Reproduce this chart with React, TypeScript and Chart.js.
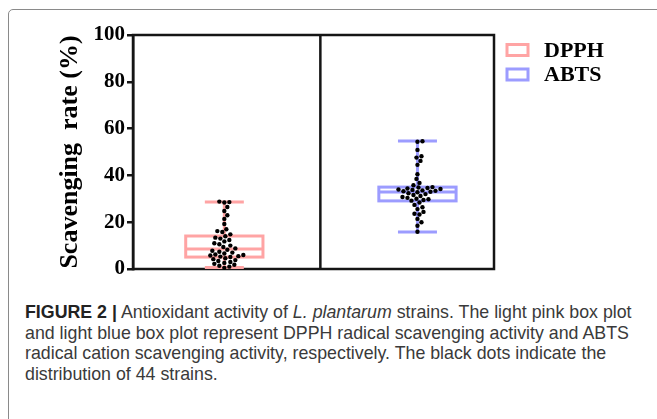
import React, { useEffect, useRef } from "react";
import { Chart, registerables } from "chart.js";

Chart.register(...registerables);

// ---------- data ----------
const groupLabels = ["DPPH", "ABTS"];
const groupColors = ["#ffa4a4", "#9c9cff"];

const dpphValues = [
  28.8, 28.6, 28.4, 26.5, 24.8, 23.0, 21.4, 19.2, 17.0, 16.2, 15.8,
  14.8, 14.0, 13.4, 13.0, 12.4, 11.8, 11.0, 10.6, 10.0, 9.4, 8.8,
  8.2, 7.8, 7.4, 7.0, 6.6, 6.2, 6.0, 5.8, 5.5, 5.3, 5.1,
  4.6, 4.2, 3.8, 3.4, 3.0, 2.6, 2.2, 1.8, 1.4, 1.0, 0.5,
];
const abtsValues = [
  54.6, 54.4, 50.9, 48.2, 47.6, 46.2, 44.5, 40.5, 38.5, 36.8, 35.8,
  35.0, 34.8, 34.6, 34.4, 34.2, 34.0, 33.8, 33.6, 33.4, 33.2, 33.0,
  32.8, 32.4, 32.0, 31.6, 31.2, 30.8, 30.4, 30.0, 29.8, 29.5, 29.2,
  28.4, 27.4, 26.4, 25.6, 24.4, 23.6, 23.3, 21.4, 20.0, 18.5, 15.9,
];
const boxMin = [0.6, 15.8];
const boxQ1 = [5.1, 29.1];
const boxMedian = [8.5, 32.9];
const boxQ3 = [14.1, 35.0];
const boxMax = [28.6, 54.7];
const yTicks = [0, 20, 40, 60, 80, 100];

// ---------- layout constants ----------
const groupX = [25.3, 78.8]; // x-scale positions of the two boxes (scale 0..100)
const dividerX = 51.9;
const boxHalf = 10.7; // half box width in x units
const capHalf = 5.4;
const AXIS_X = 133;
const SERIF = '"Liberation Serif", "Times New Roman", serif';

function swarm(values: number[], cx: number, yPix: (v: number) => number, d: number) {
  const placed: { x: number; y: number }[] = [];
  const sorted = [...values].sort((a, b) => a - b);
  for (const v of sorted) {
    const py = yPix(v);
    let best = cx;
    for (let k = 0; k < 300; k++) {
      const off = k === 0 ? 0 : k % 2 ? (k + 1) / 2 : -k / 2;
      const px = cx + off;
      if (placed.every((p) => (p.x - px) ** 2 + (p.y - py) ** 2 >= d * d)) {
        best = px;
        break;
      }
    }
    placed.push({ x: best, y: py });
  }
  return placed;
}

const boxPlugin = {
  id: "boxPlugin",
  afterDraw(chart: any) {
    const { ctx, chartArea, scales } = chart;
    const x = scales.x;
    const y = scales.y;
    const yPix = (v: number) => y.getPixelForValue(v);
    ctx.save();
    // frame
    ctx.strokeStyle = "#151515";
    ctx.lineWidth = 2.5;
    ctx.strokeRect(chartArea.left, chartArea.top, chartArea.right - chartArea.left, chartArea.bottom - chartArea.top);
    const dx = x.getPixelForValue(dividerX);
    ctx.beginPath();
    ctx.moveTo(dx, chartArea.top);
    ctx.lineTo(dx, chartArea.bottom);
    ctx.stroke();

    const all = [dpphValues, abtsValues];
    groupLabels.forEach((_, i) => {
      const cx = x.getPixelForValue(groupX[i]);
      const bl = x.getPixelForValue(groupX[i] - boxHalf);
      const br = x.getPixelForValue(groupX[i] + boxHalf);
      const cl = x.getPixelForValue(groupX[i] - capHalf);
      const cr = x.getPixelForValue(groupX[i] + capHalf);
      ctx.strokeStyle = groupColors[i];
      ctx.lineWidth = 3;
      ctx.beginPath();
      ctx.moveTo(cx, yPix(boxMax[i]));
      ctx.lineTo(cx, yPix(boxQ3[i]));
      ctx.moveTo(cx, yPix(boxQ1[i]));
      ctx.lineTo(cx, yPix(boxMin[i]));
      ctx.moveTo(cl, yPix(boxMax[i]));
      ctx.lineTo(cr, yPix(boxMax[i]));
      ctx.moveTo(cl, yPix(boxMin[i]));
      ctx.lineTo(cr, yPix(boxMin[i]));
      ctx.stroke();
      ctx.fillStyle = "#fff";
      const top = yPix(boxQ3[i]);
      const bot = yPix(boxQ1[i]);
      ctx.fillRect(bl, top, br - bl, bot - top);
      ctx.strokeRect(bl, top, br - bl, bot - top);
      ctx.beginPath();
      ctx.moveTo(bl, yPix(boxMedian[i]));
      ctx.lineTo(br, yPix(boxMedian[i]));
      ctx.stroke();

      const pts = swarm(all[i], cx, yPix, 4.7);
      ctx.fillStyle = "#000";
      pts.forEach((p) => {
        ctx.beginPath();
        ctx.arc(p.x, p.y, 2.2, 0, Math.PI * 2);
        ctx.fill();
      });
    });

    // legend
    ctx.font = `bold 22px ${SERIF}`;
    ctx.textBaseline = "middle";
    groupLabels.forEach((lab, i) => {
      const ly = 50 + i * 24.5;
      ctx.strokeStyle = groupColors[i];
      ctx.lineWidth = 3;
      ctx.strokeRect(507, ly - 5.5, 21, 11);
      ctx.fillStyle = "#000";
      ctx.fillText(lab, 544, ly + 1);
    });
    ctx.restore();
  },
};

export default function App() {
  const ref = useRef<HTMLCanvasElement>(null);
  useEffect(() => {
    if (!ref.current) return;
    const chart = new Chart(ref.current, {
      type: "scatter",
      data: {
        datasets: groupLabels.map((l, i) => ({
          label: l,
          data: [],
          borderColor: groupColors[i],
          backgroundColor: groupColors[i],
        })),
      },
      options: {
        animation: false,
        responsive: false,
        layout: { padding: { top: 35, right: 163, bottom: 21, left: 0 } },
        plugins: { legend: { display: false }, tooltip: { enabled: false } },
        scales: {
          x: { type: "linear", min: 0, max: 100, display: false },
          y: {
            type: "linear",
            min: 0,
            max: 100,
            afterBuildTicks: (s: any) => {
              s.ticks = yTicks.map((v) => ({ value: v }));
            },
            afterFit: (s: any) => {
              s.width = AXIS_X;
            },
            ticks: {
              color: "#000",
              padding: 2,
              font: { family: SERIF, weight: "bold", size: 21 },
            },
            grid: { drawOnChartArea: false, drawTicks: true, tickLength: 6, color: "#151515", lineWidth: 2.5 },
            border: { display: true, color: "#151515", width: 2.5 },
            title: {
              display: true,
              text: "Scavenging  rate (%)",
              color: "#000",
              font: { family: SERIF, weight: "bold", size: 26 },
              padding: { top: 55, bottom: 0 },
            },
          },
        },
      },
      plugins: [boxPlugin],
    });
    return () => chart.destroy();
  }, []);

  return (
    <div style={{ position: "fixed", left: 0, top: 0, width: 657, height: 419, overflow: "hidden", background: "#fff" }}>
      <div
        style={{
          position: "absolute",
          left: 8,
          top: 9,
          width: 700,
          height: 460,
          border: "1px solid #8a8a8a",
          borderTopLeftRadius: 5,
        }}
      />
      <canvas ref={ref} width={657} height={290} style={{ position: "absolute", left: 0, top: 0, width: 657, height: 290 }} />
      <div
        style={{
          position: "absolute",
          left: 25,
          top: 302,
          fontFamily: '"Liberation Sans", Arial, sans-serif',
          fontSize: 17.8,
          lineHeight: "20.5px",
          color: "#3a3a3a",
          whiteSpace: "nowrap",
        }}
      >
        <b style={{ color: "#222" }}>FIGURE 2 |</b> Antioxidant activity of <i>L. plantarum</i> strains. The light pink box plot
        <br />
        and light blue box plot represent DPPH radical scavenging activity and ABTS
        <br />
        radical cation scavenging activity, respectively. The black dots indicate the
        <br />
        distribution of 44 strains.
      </div>
    </div>
  );
}
